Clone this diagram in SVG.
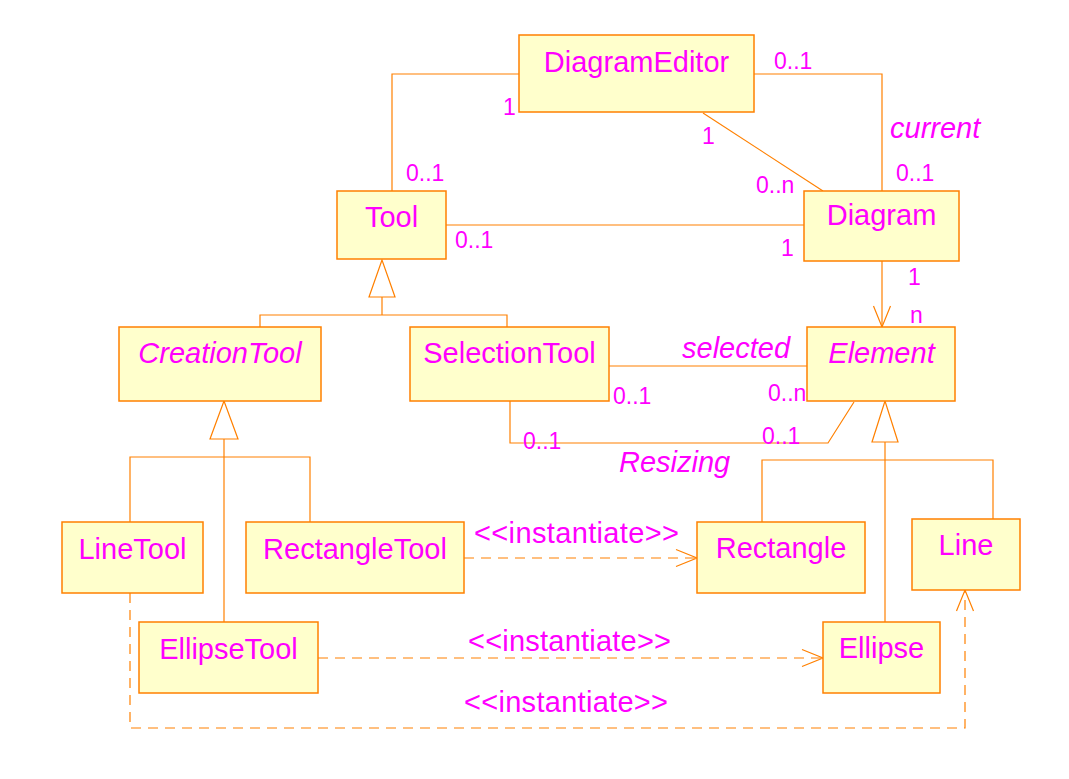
<svg xmlns="http://www.w3.org/2000/svg" width="1069" height="779" viewBox="0 0 1069 779">
<style>
.box{fill:#FFFFCC;stroke:#FF8000;stroke-width:1.5}
.t{font-family:"Liberation Sans",Arial,sans-serif;font-size:29px;fill:#FF00FF;text-anchor:middle}
.i{font-style:italic}
.l{font-family:"Liberation Sans",Arial,sans-serif;font-size:23px;fill:#FF00FF}
.s{font-family:"Liberation Sans",Arial,sans-serif;font-size:29px;fill:#FF00FF}
.r{font-family:"Liberation Sans",Arial,sans-serif;font-size:29px;fill:#FF00FF;font-style:italic}
.c{fill:none;stroke:#FF8000;stroke-width:1.2}
.d{fill:none;stroke:#FF8000;stroke-width:1.2;stroke-dasharray:10 7}
.g{fill:#FFFFFF;stroke:#FF8000;stroke-width:1.2}
</style>
<defs>
<marker id="open" markerUnits="userSpaceOnUse" markerWidth="26" markerHeight="22" viewBox="-23 -11 26 22" refX="0" refY="0" orient="auto" overflow="visible">
<path d="M-21,-8.5 L0,0 L-21,8.5" fill="none" stroke="#FF8000" stroke-width="1.2"/>
</marker>
</defs>
<rect width="1069" height="779" fill="#FFFFFF"/>
<g id="connectors">
<polyline class="c" points="519,74 392,74 392,191"/>
<polyline class="c" points="754,74 882,74 882,191"/>
<line class="c" x1="703" y1="113" x2="823" y2="191"/>
<line class="c" x1="446" y1="225" x2="804" y2="225"/>
<line class="c" x1="882" y1="261" x2="882" y2="327" marker-end="url(#open)"/>
<polygon class="g" points="382,260 369,297 395,297"/>
<polyline class="c" points="382,297 382,315"/>
<polyline class="c" points="260,327 260,315 507,315 507,327"/>
<line class="c" x1="609" y1="366" x2="807" y2="366"/>
<polyline class="c" points="510,401 510,443 828,443 854,402"/>
<polygon class="g" points="224,401 210,439 238,439"/>
<line class="c" x1="224" y1="439" x2="224" y2="622"/>
<polyline class="c" points="130,522 130,457 310,457 310,522"/>
<polygon class="g" points="885,401 872,442 898,442"/>
<line class="c" x1="885" y1="442" x2="885" y2="622"/>
<polyline class="c" points="762,522 762,460 993,460 993,519"/>
<line class="d" x1="464" y1="558" x2="697" y2="558" marker-end="url(#open)"/>
<line class="d" x1="318" y1="658" x2="823" y2="658" marker-end="url(#open)"/>
<polyline class="d" points="130,593 130,728 965,728 965,590" marker-end="url(#open)"/>
</g>
<g id="labels">
<text class="l" x="503" y="115">1</text>
<text class="l" x="406" y="181">0..1</text>
<text class="l" x="455" y="248">0..1</text>
<text class="l" x="774" y="69">0..1</text>
<text class="r" x="890" y="138">current</text>
<text class="l" x="896" y="181">0..1</text>
<text class="l" x="702" y="144">1</text>
<text class="l" x="756" y="193">0..n</text>
<text class="l" x="781" y="256">1</text>
<text class="l" x="908" y="285">1</text>
<text class="l" x="910" y="323">n</text>
<text class="r" x="682" y="358">selected</text>
<text class="l" x="613" y="404">0..1</text>
<text class="l" x="768" y="401">0..n</text>
<text class="l" x="523" y="449">0..1</text>
<text class="l" x="762" y="444">0..1</text>
<text class="r" x="619" y="472">Resizing</text>
<text class="s" x="474" y="543" textLength="205" lengthAdjust="spacing">&lt;&lt;instantiate&gt;&gt;</text>
<text class="s" x="468" y="651" textLength="203" lengthAdjust="spacing">&lt;&lt;instantiate&gt;&gt;</text>
<text class="s" x="464" y="712" textLength="204" lengthAdjust="spacing">&lt;&lt;instantiate&gt;&gt;</text>
</g>
<g id="DiagramEditor"><rect class="box" x="519" y="35" width="235" height="77"/><text class="t" x="636.5" y="72">DiagramEditor</text></g>
<g id="Tool"><rect class="box" x="337" y="191" width="109" height="68"/><text class="t" x="391.5" y="227">Tool</text></g>
<g id="Diagram"><rect class="box" x="804" y="191" width="155" height="70"/><text class="t" x="881.5" y="225">Diagram</text></g>
<g id="CreationTool"><rect class="box" x="119" y="327" width="202" height="74"/><text class="t i" x="220" y="363">CreationTool</text></g>
<g id="SelectionTool"><rect class="box" x="410" y="327" width="199" height="74"/><text class="t" x="509.5" y="363">SelectionTool</text></g>
<g id="Element"><rect class="box" x="807" y="327" width="148" height="74"/><text class="t i" x="881.5" y="363">Element</text></g>
<g id="LineTool"><rect class="box" x="62" y="522" width="141" height="71"/><text class="t" x="132.5" y="559">LineTool</text></g>
<g id="RectangleTool"><rect class="box" x="246" y="522" width="218" height="71"/><text class="t" x="355" y="559">RectangleTool</text></g>
<g id="Rectangle"><rect class="box" x="697" y="522" width="168" height="71"/><text class="t" x="781" y="558">Rectangle</text></g>
<g id="Line"><rect class="box" x="912" y="519" width="108" height="71"/><text class="t" x="966" y="555">Line</text></g>
<g id="EllipseTool"><rect class="box" x="139" y="622" width="179" height="71"/><text class="t" x="228.5" y="659">EllipseTool</text></g>
<g id="Ellipse"><rect class="box" x="823" y="622" width="117" height="71"/><text class="t" x="881.5" y="658">Ellipse</text></g>
</svg>
